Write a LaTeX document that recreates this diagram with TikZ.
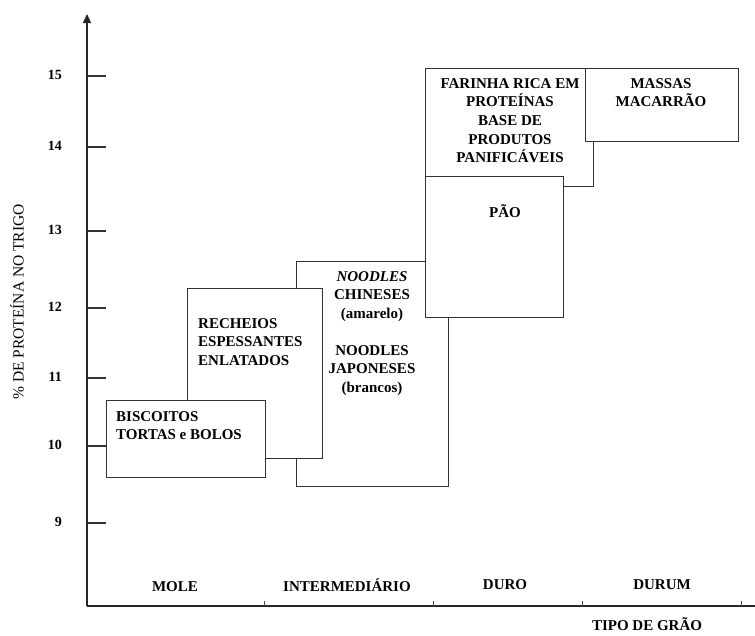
\documentclass[tikz,border=0pt]{standalone}
\usepackage{fontspec}
\setmainfont{Liberation Serif}
\usetikzlibrary{arrows.meta}
\begin{document}
\begin{tikzpicture}[x=1pt,y=-1pt,
  axisline/.style={line width=1.4pt, draw=black!85},
  tickline/.style={line width=1.1pt, draw=black!80},
  box/.style={draw=black!80, line width=1pt, fill=white, inner sep=0pt, rectangle, anchor=north west},
  lbl/.style={font=\fontsize{15}{18.7}\selectfont\bfseries, inner sep=0pt, align=center},
  lbll/.style={font=\fontsize{15}{18.7}\selectfont\bfseries, inner sep=0pt, align=left, anchor=north west},
  num/.style={font=\fontsize{14}{16}\selectfont\bfseries, inner sep=0pt, anchor=east}
]
\useasboundingbox (0,0) rectangle (755,635);
% axes
\coordinate (O) at (87,606);
\coordinate (Ytop) at (87,14);
\coordinate (Xend) at (755,606);
\draw[axisline, -{Triangle[length=9pt,width=8pt]}] (O) -- (Ytop);
\draw[axisline] (O) -- (Xend);
% y ticks
\foreach \v/\yy in {15/76,14/147,13/231,12/308,11/378,10/446,9/523}{
  \coordinate (yt\v) at (87,\yy);
  \coordinate (ye\v) at (106,\yy);
  \draw[tickline] (yt\v) -- (ye\v);
  \node[num] (yl\v) at (62,\yy-1) {\v};
}
% x ticks
\foreach \i/\xx in {1/264,2/433,3/582,4/741}{
  \coordinate (xa\i) at (\xx,606);
  \coordinate (xb\i) at (\xx,601);
  \draw[line width=0.8pt, draw=black!70] (xa\i) -- (xb\i);
}
% boxes (back to front)
\node[box, minimum width=152pt, minimum height=225pt] (noodles) at (296,261) {};
\node[box, minimum width=135pt, minimum height=170pt] (recheios) at (187,288) {};
\node[box, minimum width=159pt, minimum height=77pt] (biscoitos) at (106,400) {};
\node[box, minimum width=168pt, minimum height=118pt] (farinha) at (425,68) {};
\node[box, minimum width=153pt, minimum height=73pt] (massas) at (585,68) {};
\node[box, minimum width=138pt, minimum height=141pt] (pao) at (425,176) {};
% texts
\node[lbll] (tbis) at (116,411) {BISCOITOS\\TORTAS e BOLOS};
\node[lbll] (trec) at (198,318) {RECHEIOS\\ESPESSANTES\\ENLATADOS};
\node[lbl, anchor=north] (tnoo) at (372,271) {\textit{NOODLES}\\CHINESES\\(amarelo)\\[18pt]NOODLES\\JAPONESES\\(brancos)};
\node[lbl, anchor=north] (tfar) at (510,78) {FARINHA RICA EM\\PROTEÍNAS\\BASE DE\\PRODUTOS\\PANIFICÁVEIS};
\node[lbl, anchor=north] (tmas) at (661,78) {MASSAS\\MACARRÃO};
\node[lbl, anchor=north] (tpao) at (505,204) {PÃO};
% categories
\node[lbl] (cmole) at (175,587) {MOLE};
\node[lbl] (cint) at (347,585) {INTERMEDIÁRIO};
\node[lbl] (cduro) at (505,585) {DURO};
\node[lbl] (cdurum) at (662,585) {DURUM};
\node[lbl] (xlab) at (647,624) {TIPO DE GRÃO};
\node[font=\fontsize{15.5}{18}\selectfont, inner sep=0pt, rotate=90] (ylab) at (17,302) {\% DE PROTEÍNA NO TRIGO};
\end{tikzpicture}
\end{document}
